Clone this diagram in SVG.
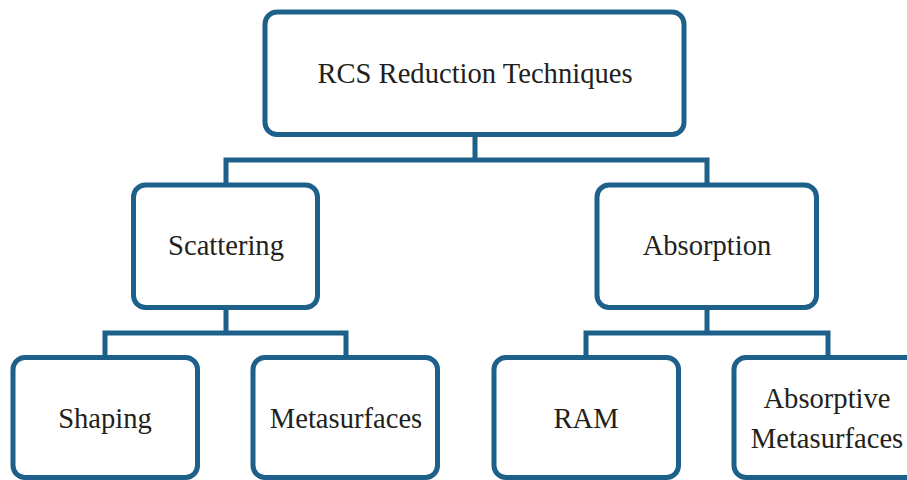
<svg xmlns="http://www.w3.org/2000/svg" width="907" height="480" viewBox="0 0 907 480">
<style>
.box{fill:#fff;stroke:#1d6089;stroke-width:5}
.conn{fill:none;stroke:#1d6089;stroke-width:5;stroke-linejoin:miter}
.t{font-size:28.6px;fill:#231f20;text-anchor:middle}
</style>
<rect width="907" height="480" fill="#fff"/>
<g id="connectors">
<path class="conn" d="M475,134.5V160M226,185V160H707V185"/>
<path class="conn" d="M226,307.5V333M105,357.5V333H346V357.5"/>
<path class="conn" d="M707,307.5V333M586,357.5V333H828V357.5"/>
</g>
<g font-family="'Liberation Serif', 'Times New Roman', Times, serif">
<g id="root"><rect class="box" x="265" y="12" width="419" height="122.5" rx="12"/><text class="t" x="475" y="83">RCS Reduction Techniques</text></g>
<g id="scattering"><rect class="box" x="133.5" y="185" width="184" height="122.5" rx="12"/><text class="t" x="226" y="255">Scattering</text></g>
<g id="absorption"><rect class="box" x="597" y="185" width="219.5" height="122.5" rx="12"/><text class="t" x="707" y="255">Absorption</text></g>
<g id="shaping"><rect class="box" x="13" y="357.5" width="184.5" height="120" rx="12"/><text class="t" x="105" y="428">Shaping</text></g>
<g id="metasurfaces"><rect class="box" x="253" y="357.5" width="184.5" height="120" rx="12"/><text class="t" x="346" y="428">Metasurfaces</text></g>
<g id="ram"><rect class="box" x="494" y="357.5" width="184.5" height="120" rx="12"/><text class="t" x="586" y="428">RAM</text></g>
<g id="absorptive-metasurfaces"><rect class="box" x="734" y="357.5" width="188" height="120" rx="12"/><text class="t" x="827" y="408">Absorptive</text><text class="t" x="827" y="448">Metasurfaces</text></g>
</g>
</svg>
